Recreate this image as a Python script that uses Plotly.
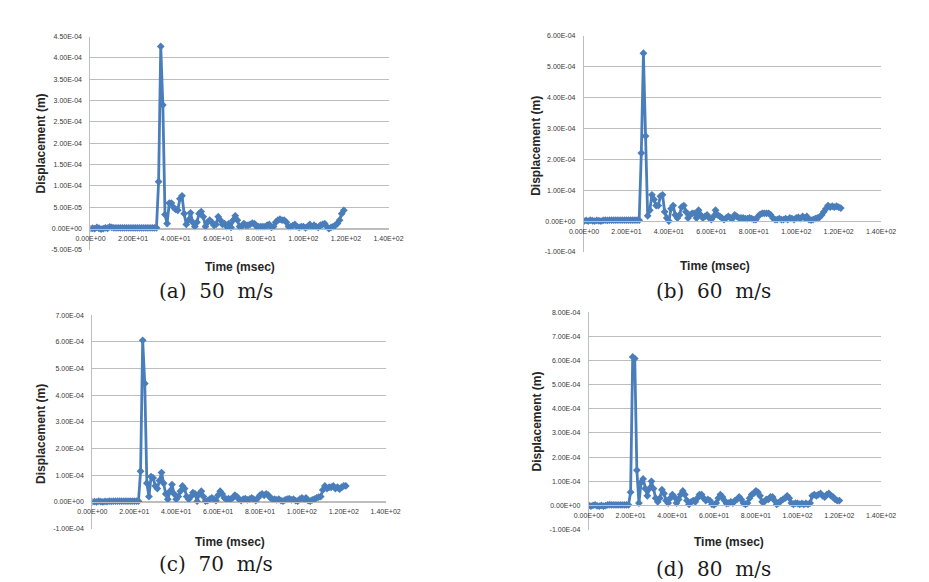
import plotly.graph_objects as go

# ---------------- data (displacement in units of 1E-05 m, time in msec) ----------------
disp_a = [0.0, 0.1, 0.0, 0.3, 0.1, -0.1, 0.0, 0.2, 0.1, 0.4, 0.3, 0.2, 0.2, 0.2, 0.2, 0.2,
          0.2, 0.2, 0.2, 0.2, 0.2, 0.2, 0.2, 0.2, 0.2, 0.2, 0.2, 0.2, 0.2, 0.2, 0.2, 0.2,
          11.0, 42.7, 29.0, 3.3, 1.2, 6.0, 6.0, 5.0, 4.5, 4.3,
          7.0, 7.7, 3.5, 1.0, 2.0, 3.7, 1.5, 0.5, 1.5, 3.5,
          4.0, 2.8, 0.5, 1.5, 2.0, 1.5, 0.8, 1.0, 2.8, 2.0,
          1.0, 1.2, 0.5, 1.2, 0.3, 2.0, 3.0, 2.0, 0.5, 0.5,
          1.2, 0.8, 0.8, 1.0, 1.3, 1.2, 0.5, 0.5, 0.5, 0.5,
          0.5, 0.8, 1.0, 0.3, 0.5, 1.5, 2.0, 2.2, 2.0, 2.0,
          1.5, 0.5, 0.5, 0.7, 1.0, 0.5, 0.3, 0.5, 0.5, 0.2,
          0.5, 1.0, 0.5, 0.8, 0.5, 0.3, 0.8, 1.0, 1.2, 0.5,
          0.0, 0.3, 0.5, 0.8, 1.2, 2.0, 3.5, 4.3]
disp_b = [0.0, 0.2, 0.0, 0.3, 0.1, 0.0, 0.2, 0.1, 0.0, 0.2, 0.3, 0.2, 0.3, 0.3, 0.3, 0.3,
          0.3, 0.3, 0.3, 0.3, 0.3, 0.3, 0.3, 0.3, 0.3, 0.3, 0.3,
          22.0, 54.3, 27.5, 1.7, 3.5, 8.5, 7.0, 5.0, 5.0, 8.0,
          8.5, 3.0, 1.0, 0.0, 4.0, 5.0, 2.0, 1.0, 2.0, 4.5,
          5.0, 3.0, 1.0, 2.0, 2.5, 2.5, 1.0, 3.5, 2.0, 1.0,
          1.5, 2.0, 1.0, 0.5, 1.5, 3.5, 2.0, 1.5, 1.0, 0.5,
          1.0, 1.5, 1.0, 0.8, 2.0, 1.5, 1.0, 1.0, 1.0, 0.8,
          0.8, 1.0, 0.8, 0.5, 0.5, 1.5, 2.2, 2.5, 2.5, 2.5,
          2.5, 2.0, 1.0, 0.5, 0.5, 0.8, 0.5, 0.5, 0.8, 0.5,
          1.0, 0.8, 0.5, 1.0, 1.2, 0.8, 1.5, 1.0, 1.5, 0.5,
          0.3, 0.5, 0.8, 1.0, 1.2, 2.0, 3.0, 4.0, 5.0, 4.5,
          4.8, 4.5, 4.8, 4.5, 4.2]
disp_c = [0.0, 0.1, 0.0, 0.3, 0.1, 0.0, 0.2, 0.1, 0.3, 0.2, 0.3, 0.3, 0.3, 0.3, 0.3, 0.3,
          0.3, 0.3, 0.3, 0.3, 0.3, 0.3, 0.3,
          11.5, 60.6, 44.4, 7.0, 2.0, 9.5, 9.0, 6.0, 5.0, 8.0,
          11.0, 7.0, 3.0, 1.0, 4.0, 6.5, 3.0, 1.0, 2.0, 4.0,
          6.0, 5.0, 2.0, 1.0, 2.0, 3.5, 3.0, 0.3, 3.0, 4.0,
          2.0, 0.3, 0.5, 1.0, 1.5, 1.0, 0.5, 2.5, 4.0, 3.0,
          1.5, 1.0, 1.2, 1.0, 1.5, 2.5, 2.0, 1.0, 0.5, 1.0,
          1.2, 0.8, 1.0, 1.5, 1.0, 0.5, 1.5, 2.5, 3.0, 2.5,
          3.0, 2.5, 1.5, 1.0, 1.0, 0.8, 1.0, 0.5, 0.3, 0.8,
          1.0, 1.2, 0.8, 1.0, 0.5, 0.3, 1.0, 1.5, 1.0, 1.5,
          0.5, 0.3, 0.8, 1.0, 1.5, 1.8, 2.0, 4.5, 6.0, 5.0,
          5.5, 5.5, 6.0, 5.0, 5.5, 4.8, 5.5, 6.0, 6.0]
disp_d = [0.0, -0.3, 0.0, 0.2, -0.2, -0.3, 0.0, -0.3, -0.1, 0.2, 0.3, 0.2, 0.2, 0.2, 0.2,
          0.2, 0.2, 0.2, 0.2, 0.2,
          5.5, 61.5, 60.8, 14.6, 1.0, 9.5, 11.0, 7.0, 4.0, 7.0,
          10.0, 7.0, 3.0, 1.5, 3.0, 6.5, 5.0, 2.0, 1.0, 3.0,
          4.5, 3.5, 1.0, 2.5, 4.5, 6.0, 4.5, 2.0, 0.5, 1.5,
          2.0, 1.5, 3.0, 4.5, 4.5, 3.0, 2.0, 2.5, 2.0, 0.5,
          0.3, 1.0, 3.0, 4.5, 3.5, 2.0, 0.8, 1.0, 1.5, 1.0,
          2.0, 2.5, 3.5, 2.5, 1.0, 0.5, 1.0, 3.0, 4.5, 5.0,
          6.0, 5.5, 4.0, 1.5, 1.5, 2.5, 2.5, 3.5, 3.5, 2.0,
          0.5, 1.0, 2.0, 2.5, 3.0, 4.0, 3.0, 1.0, 0.5, 1.0,
          0.8, 0.5, 0.8, 0.5, 0.8, 0.5, 1.0, 4.0, 4.5, 4.0,
          4.5, 5.0, 4.0, 3.5, 4.5, 5.0, 4.0, 3.5, 2.5, 2.0,
          2.0]
time_a = list(range(len(disp_a)))
time_b = list(range(len(disp_b)))
time_c = list(range(len(disp_c)))
time_d = list(range(len(disp_d)))

captions = ["(a)\u00a0\u00a050\u00a0\u00a0m/s", "(b)\u00a0\u00a060\u00a0\u00a0m/s",
            "(c)\u00a0\u00a070\u00a0\u00a0m/s", "(d)\u00a0\u00a080\u00a0\u00a0m/s"]
y_ticks_a = [-5, 0, 5, 10, 15, 20, 25, 30, 35, 40, 45]
y_ticks_b = [-10, 0, 10, 20, 30, 40, 50, 60]
y_ticks_c = [-10, 0, 10, 20, 30, 40, 50, 60, 70]
y_ticks_d = [-10, 0, 10, 20, 30, 40, 50, 60, 70, 80]
x_ticks = [0, 20, 40, 60, 80, 100, 120, 140]
x_title = "Time (msec)"
y_title = "Displacement (m)"

# ---------------- layout ----------------
W, H = 929, 582
BLUE = "#4A7EBB"
GRID = "#BDBDBD"
TICKF = dict(family="Liberation Sans", size=7, color="#383838")

panels = [
    dict(t=time_a, y=disp_a, yt=y_ticks_a, box=(78, 386, 33, 249),
         ytl=(27, 141), xtl=(233, 266), cap=(208, 290)),
    dict(t=time_b, y=disp_b, yt=y_ticks_b, box=(588, 895, 32, 251),
         ytl=(539, 144), xtl=(723, 265), cap=(722, 290)),
    dict(t=time_c, y=disp_c, yt=y_ticks_c, box=(80, 383, 315, 531),
         ytl=(27, 435), xtl=(222, 545), cap=(208, 567)),
    dict(t=time_d, y=disp_d, yt=y_ticks_d, box=(593, 895, 312, 532),
         ytl=(539, 423), xtl=(738, 545), cap=(722, 572)),
]

fig = go.Figure()
annotations = []
layout = dict(width=W, height=H, margin=dict(l=0, r=0, t=0, b=0),
              paper_bgcolor="white", plot_bgcolor="white", showlegend=False)

for i, p in enumerate(panels):
    n = "" if i == 0 else str(i + 1)
    xa, ya = "x" + n, "y" + n
    l, r, top, bot = p["box"]
    ydom = [1 - bot / H, 1 - top / H]
    ymin, ymax = p["yt"][0], p["yt"][-1]
    zero_pos = ydom[0] + (0 - ymin) / (ymax - ymin) * (ydom[1] - ydom[0])
    fig.add_trace(go.Scatter(
        x=p["t"], y=p["y"], xaxis=xa, yaxis=ya, mode="lines+markers",
        line=dict(color=BLUE, width=2.8),
        marker=dict(symbol="diamond", size=6, color=BLUE),
    ))
    layout["xaxis" + n] = dict(
        domain=[l / W, r / W], range=[0, 140], anchor="free", position=zero_pos,
        tickmode="array", tickvals=x_ticks, ticktext=[f"{v:.2E}" for v in x_ticks],
        showgrid=False, zeroline=False, showline=True, linecolor=GRID, linewidth=1.2,
        ticks="", ticklabelstandoff=3, tickfont=TICKF,
    )
    layout["yaxis" + n] = dict(
        domain=ydom, range=[ymin, ymax], anchor=xa,
        tickmode="array", tickvals=p["yt"], ticktext=[f"{v * 1e-5:.2E}" for v in p["yt"]],
        showgrid=True, gridcolor=GRID, gridwidth=1.2, zeroline=False,
        showline=True, linecolor=GRID, linewidth=1.2, ticks="", ticklabelstandoff=6,
        tickfont=TICKF,
    )
    annotations.append(dict(x=p["ytl"][0] / W, y=1 - p["ytl"][1] / H, xref="paper", yref="paper",
                            text="<b>" + y_title + "</b>", textangle=-90, showarrow=False,
                            font=dict(family="Liberation Sans", size=12, color="#262626"),
                            xanchor="center", yanchor="middle"))
    annotations.append(dict(x=p["xtl"][0] / W, y=1 - p["xtl"][1] / H, xref="paper", yref="paper",
                            text="<b>" + x_title + "</b>", showarrow=False,
                            font=dict(family="Liberation Sans", size=12, color="#262626"),
                            xanchor="center", yanchor="middle"))
    annotations.append(dict(x=p["cap"][0] / W, y=1 - p["cap"][1] / H, xref="paper", yref="paper",
                            text=captions[i], showarrow=False,
                            font=dict(family="DejaVu Serif", size=20, color="#1a1a1a"),
                            xanchor="center", yanchor="middle"))

layout["annotations"] = annotations
fig.update_layout(**layout)
fig.write_html("out.html")
